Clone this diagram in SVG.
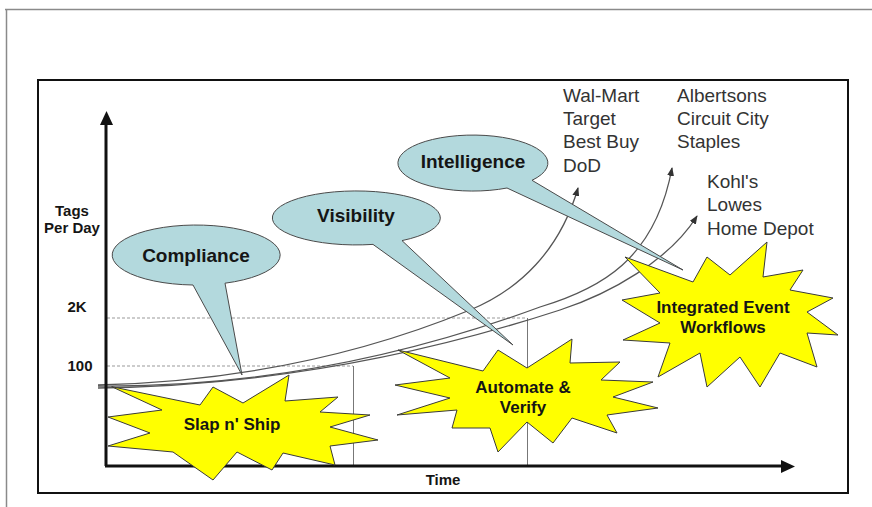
<svg xmlns="http://www.w3.org/2000/svg" width="872" height="507" viewBox="0 0 872 507">
<defs>
<marker id="ah" markerUnits="userSpaceOnUse" markerWidth="9" markerHeight="7" refX="8" refY="3.5" orient="auto">
<path d="M0,0 L9,3.5 L0,7 z" fill="#333"/>
</marker>
<style>
.lbl{font-family:"Liberation Sans",Arial,sans-serif;font-weight:bold;fill:#151515}
.co{font-family:"Liberation Sans",Arial,sans-serif;font-size:19px;fill:#333}
.bub{fill:#b3d9dd;stroke:#4a4a4a;stroke-width:1}
.star{fill:#ffff00;stroke:#3a3a3a;stroke-width:1;stroke-linejoin:miter}
.dot{stroke:#999;stroke-width:1;stroke-dasharray:3,2;fill:none}
.curve{fill:none;stroke:#555;stroke-width:1.3;marker-end:url(#ah)}
</style>
</defs>
<rect width="872" height="507" fill="#fff"/>
<g id="frame">
<path d="M5,9.5 H872 M6.5,9 V507" stroke="#8a8a8a" stroke-width="1.5" fill="none"/>
<rect x="38" y="80" width="810" height="413" fill="#fff" stroke="#111" stroke-width="2"/>
</g>
<g id="grid">
<line class="dot" x1="107" y1="318" x2="527" y2="318"/>
<line class="dot" x1="107" y1="366" x2="353" y2="366"/>
<line x1="353.5" y1="366" x2="353.5" y2="466" stroke="#777" stroke-width="1"/>
<line x1="527.5" y1="318" x2="527.5" y2="466" stroke="#777" stroke-width="1"/>
</g>
<g id="connectors">
<path class="curve" d="M98,385 Q300,380 470,310 C520,289.4 560,250 578,188"/>
<path class="curve" d="M98,386 Q320,388 540,307 C600,289 655,260 672,168"/>
<path class="curve" d="M98,388 Q330,385 560,310 C610,293.7 670,260 697,216"/>
</g>
<g id="axes">
<line x1="106" y1="466" x2="106" y2="124" stroke="#111" stroke-width="3"/>
<path d="M100,125 L106.5,111 L113,125 z" fill="#111"/>
<line x1="105" y1="466" x2="782" y2="466" stroke="#111" stroke-width="3"/>
<path d="M781,460 L795,466.5 L781,473 z" fill="#111"/>
<text class="lbl" x="72" y="216" font-size="15" text-anchor="middle">Tags</text>
<text class="lbl" x="72" y="233" font-size="15" text-anchor="middle">Per Day</text>
<text class="lbl" x="77" y="312" font-size="15" text-anchor="middle">2K</text>
<text class="lbl" x="80" y="371" font-size="15" text-anchor="middle">100</text>
<text class="lbl" x="443" y="485" font-size="15" text-anchor="middle">Time</text>
</g>
<g id="slap">
<polygon class="star" points="111.7,386.7 200,405 213,387 243,403 289,375 285,401 338,397 320,412 370,415 330,427 378,440 330,446 335,465 283,453 272,470 237,452 213,480 173,452 108,446 150,433 108,417 162,410"/>
<text class="lbl" x="232" y="430" font-size="17" text-anchor="middle">Slap n' Ship</text>
</g>
<g id="automate">
<polygon class="star" points="398,350 483,371 498,350 527,368 572,339 570,363 620,362 601,380 653,382 613,397 658,408 607,415 617,433 572,418 553,443 527,422 498,452 490,428 452,428 457,410 397,415 450,398 395,385 450,378"/>
<text class="lbl" x="523" y="393" font-size="17" text-anchor="middle">Automate &amp;</text>
<text class="lbl" x="523" y="413" font-size="17" text-anchor="middle">Verify</text>
</g>
<g id="integrated">
<polygon class="star" points="625,257 693,282 707,257 730,275 767,242 763,277 803,270 790,290 833,298 807,312 838,335 807,333 817,367 780,353 760,387 740,357 707,387 700,353 658,377 670,343 623,340 660,323 622,300 660,293"/>
<text class="lbl" x="723" y="313" font-size="17" text-anchor="middle">Integrated Event</text>
<text class="lbl" x="723" y="333" font-size="17" text-anchor="middle">Workflows</text>
</g>
<g id="compliance">
<path class="bub" d="M225,283.2 A84,30 0 1 0 193,285 L242,375 Z"/>
<text class="lbl" x="196" y="262" font-size="19" text-anchor="middle">Compliance</text>
</g>
<g id="visibility">
<path class="bub" d="M402,240.6 A84,27 0 1 0 373,244.4 L513,345 Z"/>
<text class="lbl" x="356" y="222" font-size="19" text-anchor="middle">Visibility</text>
</g>
<g id="intelligence">
<path class="bub" d="M532,180.3 A75,28 0 1 0 507,188 L683,270 Z"/>
<text class="lbl" x="473" y="168" font-size="19" text-anchor="middle">Intelligence</text>
</g>
<g id="customers1">
<text class="co" x="563" y="102">Wal-Mart</text>
<text class="co" x="563" y="125">Target</text>
<text class="co" x="563" y="148">Best Buy</text>
<text class="co" x="563" y="172">DoD</text>
</g>
<g id="customers2">
<text class="co" x="677" y="102">Albertsons</text>
<text class="co" x="677" y="125">Circuit City</text>
<text class="co" x="677" y="148">Staples</text>
</g>
<g id="customers3">
<text class="co" x="707" y="188">Kohl's</text>
<text class="co" x="707" y="211">Lowes</text>
<text class="co" x="707" y="235">Home Depot</text>
</g>
</svg>
